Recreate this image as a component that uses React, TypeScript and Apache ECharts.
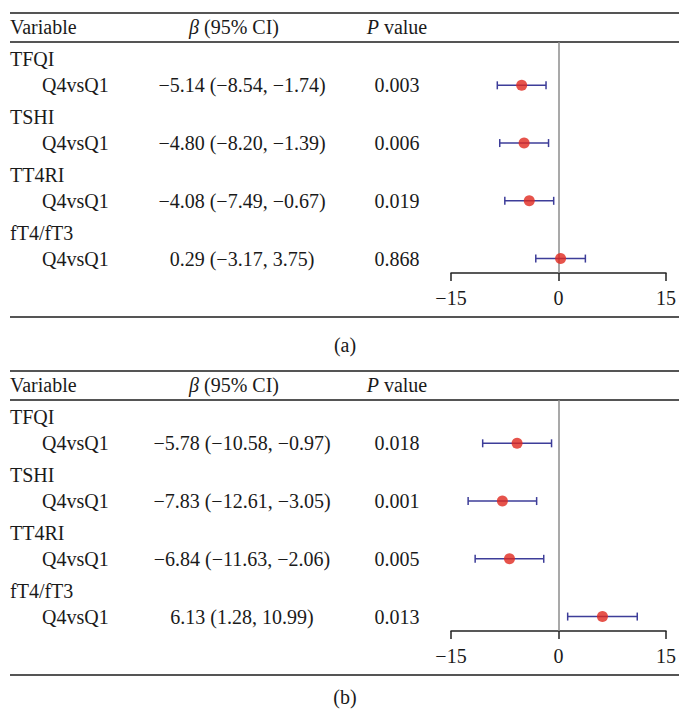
import React, { useEffect, useRef } from "react";
import * as echarts from "echarts";

const variables = ["TFQI", "TSHI", "TT4RI", "fT4/fT3"];
const comparison = "Q4vsQ1";

const betaA = [-5.14, -4.8, -4.08, 0.29];
const lowerA = [-8.54, -8.2, -7.49, -3.17];
const upperA = [-1.74, -1.39, -0.67, 3.75];
const pA = ["0.003", "0.006", "0.019", "0.868"];

const betaB = [-5.78, -7.83, -6.84, 6.13];
const lowerB = [-10.58, -12.61, -11.63, 1.28];
const upperB = [-0.97, -3.05, -2.06, 10.99];
const pB = ["0.018", "0.001", "0.005", "0.013"];

const xMin = -15;
const xMax = 15;
const xInterval = 15;
const panelLabels = ["(a)", "(b)"];

const FONT = "'Liberation Serif', 'Times New Roman', serif";
const FS = 20;
const TEXT = "#1a1a1a";
const RULE = "#555555";
const DOT = "#e0281e";
const BAR = "#3d3d99";

const rowKeys = variables.flatMap((v) => [v, v + "|" + comparison]);
const fmt = (v: number) => (v < 0 ? "\u2212" : "") + Math.abs(v).toFixed(2);

export default function App() {
  const ref = useRef<HTMLDivElement>(null);
  useEffect(() => {
    if (!ref.current) return;
    const chart = echarts.init(ref.current, null, { renderer: "svg" });

    const panels = [
      { beta: betaA, lo: lowerA, hi: upperA, p: pA, top: 42 },
      { beta: betaB, lo: lowerB, hi: upperB, p: pB, top: 400 },
    ];
    const gridLeft = 451;
    const gridRight = 11;
    const gridHeight = 231;

    const grids: any[] = [];
    const xAxes: any[] = [];
    const yAxes: any[] = [];
    const series: any[] = [];

    const labelBase = { fontFamily: FONT, fontSize: FS, color: TEXT };

    panels.forEach((pn, gi) => {
      grids.push({ left: gridLeft, right: gridRight, top: pn.top, height: gridHeight, containLabel: false });
      xAxes.push({
        type: "value",
        gridIndex: gi,
        min: xMin,
        max: xMax,
        interval: xInterval,
        axisLine: { show: true, onZero: false, lineStyle: { color: "#222", width: 1.5 } },
        axisTick: { show: true, length: 8, lineStyle: { color: "#222", width: 1.5 } },
        splitLine: { show: false },
        axisLabel: {
          ...labelBase,
          margin: 15,
          formatter: (v: number) => (v < 0 ? "\u2212" : "") + Math.abs(v),
        },
      });
      const yBase = {
        type: "category",
        gridIndex: gi,
        data: rowKeys,
        inverse: true,
        position: "left",
        axisLine: { show: false },
        axisTick: { show: false },
        splitLine: { show: false },
      };
      yAxes.push({
        ...yBase,
        offset: gridLeft - 10,
        axisLabel: {
          ...labelBase,
          interval: 0,
          margin: 0,
          align: "left",
          formatter: (_v: string, i: number) =>
            i % 2 === 0 ? `{v|${variables[i / 2]}}` : `{q|${comparison}}`,
          rich: {
            v: { ...labelBase, padding: [6, 0, 0, 0] },
            q: { ...labelBase, padding: [0, 0, 0, 32] },
          },
        },
      });
      yAxes.push({
        ...yBase,
        offset: gridLeft - 242,
        axisLabel: {
          ...labelBase,
          interval: 0,
          margin: 0,
          align: "center",
          formatter: (_v: string, i: number) => {
            if (i % 2 === 0) return "";
            const k = (i - 1) / 2;
            return `${fmt(pn.beta[k])} (${fmt(pn.lo[k])}, ${fmt(pn.hi[k])})`;
          },
        },
      });
      yAxes.push({
        ...yBase,
        offset: gridLeft - 397,
        axisLabel: {
          ...labelBase,
          interval: 0,
          margin: 0,
          align: "center",
          formatter: (_v: string, i: number) => (i % 2 === 0 ? "" : pn.p[(i - 1) / 2]),
        },
      });

      const yIdx = gi * 3;
      series.push({
        type: "custom",
        xAxisIndex: gi,
        yAxisIndex: yIdx,
        z: 2,
        silent: true,
        data: pn.beta.map((_, k) => [pn.lo[k], pn.hi[k], 2 * k + 1]),
        renderItem: (_params: any, api: any) => {
          const row = api.value(2);
          const a = api.coord([api.value(0), row]);
          const b = api.coord([api.value(1), row]);
          const cap = 4;
          const style = { stroke: BAR, lineWidth: 1.5 };
          return {
            type: "group",
            children: [
              { type: "line", shape: { x1: a[0], y1: a[1], x2: b[0], y2: b[1] }, style },
              { type: "line", shape: { x1: a[0], y1: a[1] - cap, x2: a[0], y2: a[1] + cap }, style },
              { type: "line", shape: { x1: b[0], y1: b[1] - cap, x2: b[0], y2: b[1] + cap }, style },
            ],
          };
        },
      });
      series.push({
        type: "scatter",
        xAxisIndex: gi,
        yAxisIndex: yIdx,
        z: 3,
        silent: true,
        symbol: "circle",
        symbolSize: 11,
        itemStyle: { color: DOT },
        data: pn.beta.map((b, k) => [b, 2 * k + 1]),
        markLine: {
          silent: true,
          symbol: "none",
          label: { show: false },
          z: 1,
          lineStyle: { color: "#8c8c8c", width: 1.5, type: "solid" },
          data: [{ xAxis: 0 }],
        },
      });
    });

    const rules = [13, 42, 317, 371, 400, 675].map((y) => ({
      type: "line",
      shape: { x1: 10, y1: y, x2: 679, y2: y },
      style: { stroke: RULE, lineWidth: 2 },
      silent: true,
    }));
    const textEl = (text: string, x: number, y: number, align: string, rich?: any) => ({
      type: "text",
      silent: true,
      style: {
        text,
        x,
        y,
        align,
        verticalAlign: "middle",
        fontFamily: FONT,
        fontSize: FS,
        fill: TEXT,
        ...(rich ? { rich } : {}),
      },
    });
    const italic = { i: { fontFamily: FONT, fontSize: FS, fontStyle: "italic", fill: TEXT } };
    const headers: any[] = [];
    [27, 385].forEach((y) => {
      headers.push(textEl("Variable", 10, y, "left"));
      headers.push(textEl("{i|\u03b2} (95% CI)", 234, y, "center", italic));
      headers.push(textEl("{i|P} value", 397, y, "center", italic));
    });
    headers.push(textEl(panelLabels[0], 345, 345, "center"));
    headers.push(textEl(panelLabels[1], 345, 697, "center"));

    chart.setOption({
      animation: false,
      backgroundColor: "#ffffff",
      grid: grids,
      xAxis: xAxes,
      yAxis: yAxes,
      series,
      graphic: [...rules, ...headers],
    });
    return () => chart.dispose();
  }, []);
  return (
    <div
      ref={ref}
      style={{ position: "fixed", left: 0, top: 0, width: 679, height: 710, background: "#fff" }}
    />
  );
}
